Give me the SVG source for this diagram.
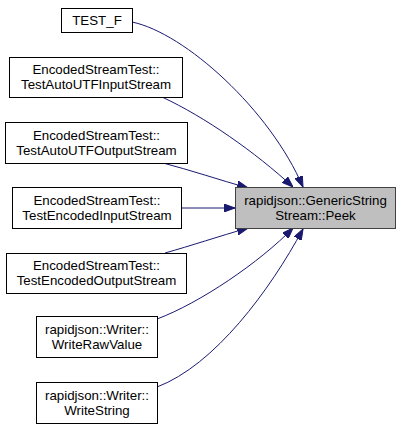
<svg xmlns="http://www.w3.org/2000/svg" width="400" height="430" viewBox="0 0 400 430">
<defs>
<style>
.box{fill:#ffffff;stroke:#000000;stroke-width:1}
.cur{fill:#bfbfbf;stroke:#404040;stroke-width:1}
text{font-family:"Liberation Sans",Arial,Helvetica,sans-serif;font-size:13.3px;fill:#000000;text-anchor:middle}
.edge{fill:none;stroke:#191970;stroke-width:1}
</style>
<marker id="ah" markerUnits="userSpaceOnUse" markerWidth="11" markerHeight="8" refX="11" refY="4" orient="auto" viewBox="0 0 11 8">
<path d="M0,0 L11,4 L0,8 Z" fill="#191970" stroke="#191970" stroke-width="1"/>
</marker>
</defs>
<rect width="400" height="430" fill="#ffffff"/>
<g id="edges">
<path class="edge" marker-end="url(#ah)" d="M132,22 C185,33 270,110 303,187"/>
<path class="edge" marker-end="url(#ah)" d="M162,97 C205,117 255,152 293,187"/>
<path class="edge" marker-end="url(#ah)" d="M163,163 C190,170 220,180 248,188"/>
<path class="edge" marker-end="url(#ah)" d="M181,208 L235,208"/>
<path class="edge" marker-end="url(#ah)" d="M165,253 C190,246 220,236 248,228"/>
<path class="edge" marker-end="url(#ah)" d="M157,319 C200,303 260,262 293,228"/>
<path class="edge" marker-end="url(#ah)" d="M157,387 C215,365 270,290 303,229"/>
</g>
<g id="peek">
<rect class="cur" x="235.5" y="187.5" width="160" height="41"/>
<text x="315.5" y="204.5">rapidjson::GenericString</text>
<text x="315.5" y="219.5">Stream::Peek</text>
</g>
<g id="test_f">
<rect class="box" x="61.5" y="8.5" width="71" height="24"/>
<text x="97" y="25">TEST_F</text>
</g>
<g id="autoutf_in">
<rect class="box" x="9.5" y="57.5" width="173" height="40"/>
<text x="96" y="74">EncodedStreamTest::</text>
<text x="96" y="89">TestAutoUTFInputStream</text>
</g>
<g id="autoutf_out">
<rect class="box" x="5.5" y="122.5" width="182" height="41"/>
<text x="96.5" y="139.5">EncodedStreamTest::</text>
<text x="96.5" y="154.5">TestAutoUTFOutputStream</text>
</g>
<g id="enc_in">
<rect class="box" x="12.5" y="187.5" width="169" height="41"/>
<text x="97" y="204.5">EncodedStreamTest::</text>
<text x="97" y="219.5">TestEncodedInputStream</text>
</g>
<g id="enc_out">
<rect class="box" x="6.5" y="253.5" width="180" height="40"/>
<text x="96.5" y="270">EncodedStreamTest::</text>
<text x="96.5" y="285">TestEncodedOutputStream</text>
</g>
<g id="write_raw">
<rect class="box" x="36.5" y="316.5" width="121" height="41"/>
<text x="97" y="333.5">rapidjson::Writer::</text>
<text x="97" y="348.5">WriteRawValue</text>
</g>
<g id="write_string">
<rect class="box" x="36.5" y="382.5" width="121" height="41"/>
<text x="97" y="399.5">rapidjson::Writer::</text>
<text x="97" y="414.5">WriteString</text>
</g>
</svg>
